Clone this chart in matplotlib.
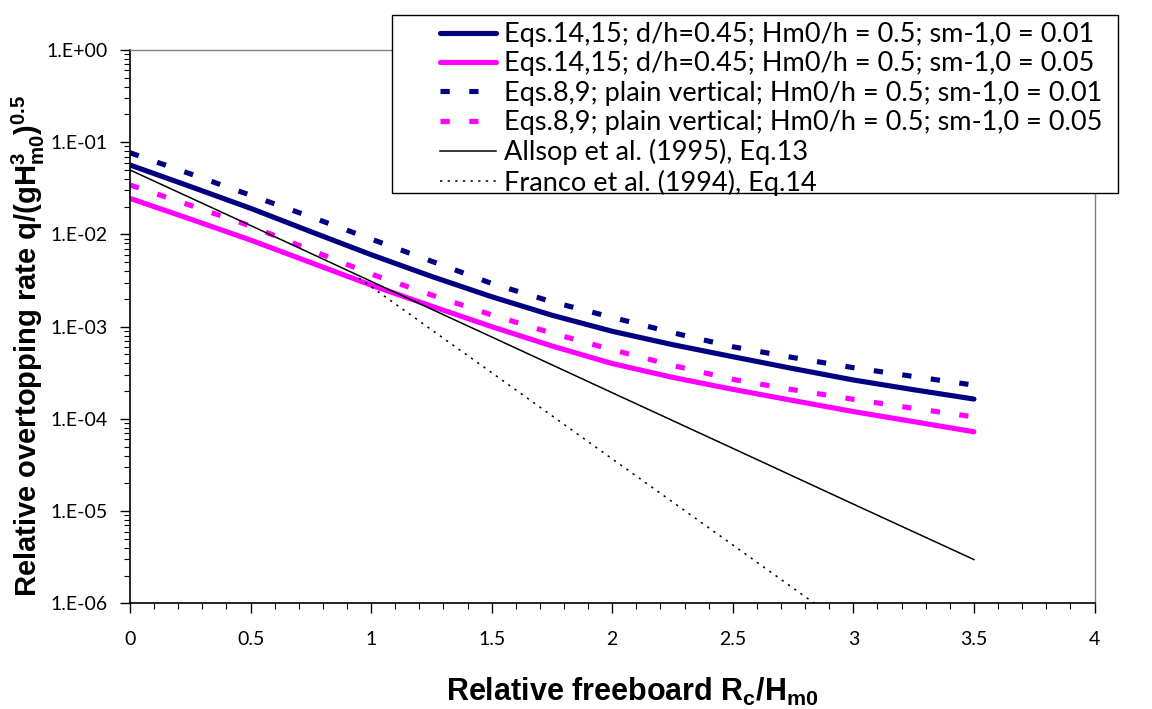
import matplotlib
matplotlib.use("Agg")
import matplotlib.pyplot as plt
from matplotlib.patches import Rectangle
from matplotlib.ticker import FixedLocator, MultipleLocator, LogLocator, NullFormatter

# ---- data ----
x_main = [0.0, 0.25, 0.5, 0.75, 1.0, 1.25, 1.5, 1.75, 2.0, 2.25, 2.5, 2.75, 3.0, 3.25, 3.5]
eq1415_s001 = [5.66e-2, 3.31e-2, 1.92e-2, 1.072e-2, 6.03e-3, 3.51e-3, 2.11e-3, 1.33e-3,
               8.91e-4, 6.38e-4, 4.72e-4, 3.51e-4, 2.64e-4, 2.07e-4, 1.64e-4]
eq1415_s005 = [2.46e-2, 1.469e-2, 8.69e-3, 4.95e-3, 2.82e-3, 1.67e-3, 1.0e-3, 6.17e-4,
               3.98e-4, 2.82e-4, 2.09e-4, 1.58e-4, 1.20e-4, 9.33e-5, 7.24e-5]
eq89_s001 = [7.69e-2, 4.54e-2, 2.66e-2, 1.55e-2, 8.91e-3, 5.13e-3, 2.94e-3, 1.86e-3,
             1.26e-3, 8.61e-4, 6.05e-4, 4.62e-4, 3.59e-4, 2.88e-4, 2.32e-4]
eq89_s005 = [3.44e-2, 2.07e-2, 1.233e-2, 6.76e-3, 3.72e-3, 2.21e-3, 1.34e-3, 8.51e-4,
             5.62e-4, 3.80e-4, 2.68e-4, 2.07e-4, 1.63e-4, 1.30e-4, 1.05e-4]
x_allsop = [0.0, 0.5, 1.0, 1.5, 2.0, 2.5, 3.0, 3.5]
allsop = [5.0e-2, 1.25e-2, 3.10e-3, 7.73e-4, 1.92e-4, 4.79e-5, 1.19e-5, 2.98e-6]
x_franco = [0.95, 1.5, 2.0, 2.5, 3.0, 3.5]
franco = [3.36e-3, 3.17e-4, 3.68e-5, 4.29e-6, 4.99e-7, 5.81e-8]

labels = [
    "Eqs.14,15; d/h=0.45; Hm0/h = 0.5; sm-1,0 = 0.01",
    "Eqs.14,15; d/h=0.45; Hm0/h = 0.5; sm-1,0 = 0.05",
    "Eqs.8,9; plain vertical; Hm0/h = 0.5; sm-1,0 = 0.01",
    "Eqs.8,9; plain vertical; Hm0/h = 0.5; sm-1,0 = 0.05",
    "Allsop et al. (1995), Eq.13",
    "Franco et al. (1994), Eq.14",
]
y_tick_vals = [1e0, 1e-1, 1e-2, 1e-3, 1e-4, 1e-5, 1e-6]
y_tick_labels = ["1.E+00", "1.E-01", "1.E-02", "1.E-03", "1.E-04", "1.E-05", "1.E-06"]
x_tick_vals = [0, 0.5, 1, 1.5, 2, 2.5, 3, 3.5, 4]
x_tick_labels = ["0", "0.5", "1", "1.5", "2", "2.5", "3", "3.5", "4"]

NAVY = "#000080"
MAGENTA = "#FF00FF"

plt.rcParams["mathtext.fontset"] = "custom"
plt.rcParams["mathtext.rm"] = "Liberation Sans:bold"
plt.rcParams["mathtext.bf"] = "Liberation Sans:bold"
plt.rcParams["mathtext.it"] = "Liberation Sans:bold"

W, H = 1152, 709
fig = plt.figure(figsize=(W / 100, H / 100), dpi=100)
ax = fig.add_axes([130 / W, 1 - 603.3 / H, (1094.5 - 130) / W, (603.3 - 50) / H])

lw_thick = 3.7
h1, = ax.plot(x_main, eq1415_s001, color=NAVY, lw=lw_thick, solid_capstyle="round", solid_joinstyle="round")
h2, = ax.plot(x_main, eq1415_s005, color=MAGENTA, lw=lw_thick, solid_capstyle="round", solid_joinstyle="round")
h3, = ax.plot(x_main, eq89_s001, color=NAVY, lw=lw_thick, dashes=(1.8, 3.8), dash_capstyle="butt")
h4, = ax.plot(x_main, eq89_s005, color=MAGENTA, lw=lw_thick, dashes=(1.8, 3.8), dash_capstyle="butt")
h5, = ax.plot(x_allsop, allsop, color="black", lw=1.1)
h6, = ax.plot(x_franco, franco, color="black", lw=1.1, dashes=(1.5, 3.5))

ax.set_yscale("log")
ax.set_xlim(0, 4)
ax.set_ylim(1e-6, 1e0)

ax.yaxis.set_major_locator(FixedLocator(y_tick_vals))
ax.set_yticklabels(y_tick_labels)
ax.yaxis.set_minor_locator(LogLocator(base=10, subs=range(2, 10), numticks=20))
ax.yaxis.set_minor_formatter(NullFormatter())
ax.xaxis.set_major_locator(FixedLocator(x_tick_vals))
ax.set_xticklabels(x_tick_labels)
ax.xaxis.set_minor_locator(MultipleLocator(0.1))

for lab in ax.get_xticklabels() + ax.get_yticklabels():
    lab.set_fontfamily("Lato")
    lab.set_fontsize(14)

ax.tick_params(axis="both", which="major", direction="out", length=7, width=1.0, color="black")
ax.tick_params(axis="both", which="minor", direction="out", length=4, width=0.8, color="black")
ax.tick_params(axis="x", which="major", pad=13)
ax.tick_params(axis="y", which="major", pad=9)

for s in ["left", "bottom"]:
    ax.spines[s].set_color("black")
    ax.spines[s].set_linewidth(1.2)
for s in ["top", "right"]:
    ax.spines[s].set_color("#808080")
    ax.spines[s].set_linewidth(1.0)

ax.set_xlabel(r"Relative freeboard R$_\mathbf{c}$/H$_\mathbf{m0}$",
              fontfamily="Liberation Sans", fontweight="bold", fontsize=22)
ax.set_ylabel(r"Relative overtopping rate q/(gH$_\mathbf{m0}^\mathbf{3}$)$^\mathbf{0.5}$",
              fontfamily="Liberation Sans", fontweight="bold", fontsize=21)
ax.xaxis.set_label_coords((632 - 130) / 964.5, (603.3 - 676) / 553.3)
ax.yaxis.set_label_coords((47 - 130) / 964.5, 0.465)

# legend frame (drawn separately so the box can have a wide left margin)
frame = Rectangle((392 / W, 1 - 193 / H), (1118 - 392) / W, (193 - 15) / H,
                  transform=fig.transFigure, facecolor="white", edgecolor="black",
                  linewidth=1.0, zorder=5)
fig.patches.append(frame)
leg = fig.legend([h1, h2, h3, h4, h5, h6], labels,
                 loc="upper left", bbox_to_anchor=(440 / W, 1 - 22 / H),
                 prop=dict(family="Lato", size=19.5), frameon=False,
                 handlelength=2.05, handletextpad=0.3,
                 labelspacing=0.16, borderpad=0, borderaxespad=0)
leg.set_zorder(6)

fig.savefig("out.png", dpi=100)
